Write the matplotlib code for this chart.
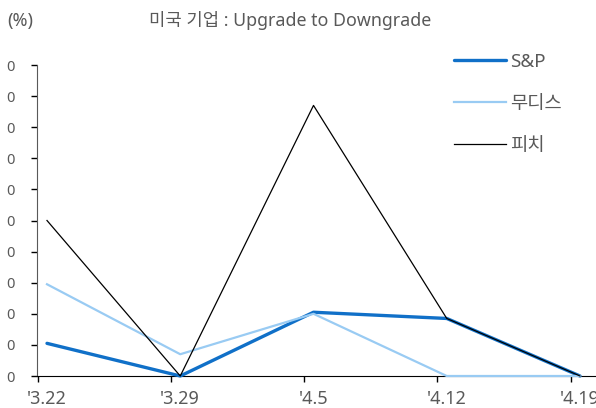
import numpy as np
import matplotlib
matplotlib.use("Agg")
import matplotlib.pyplot as plt

plt.rcParams['font.family'] = ['Noto Sans', 'Noto Sans CJK KR', 'DejaVu Sans']

# data (y in tick units, labels are cropped to "0")
dates = ["'3.22", "'3.29", "'4.5", "'4.12", "'4.19"]
sp = [1.05, 0.0, 2.05, 1.85, 0.0]
moodys = [2.95, 0.7, 2.0, 0.0, 0.0]
fitch = [5.0, 0.0, 8.7, 1.85, 0.0]
ytick_vals = list(range(0, 11))
ytick_labels = ["0"] * 11

gray = "#595959"
fig = plt.figure(figsize=(5.96, 4.08), dpi=100)
ax = fig.add_axes([37 / 596, 32 / 408, 559 / 596, 311 / 408])

x = np.arange(len(dates))
ax.plot(x, sp, color="#1070C8", lw=2.4, label="S&P", clip_on=False, zorder=3,
        solid_capstyle="round")
ax.plot(x, moodys, color="#99CBF3", lw=1.6, label="무디스", clip_on=False, zorder=4)
ax.plot(x, fitch, color="black", lw=0.9, label="피치", clip_on=False, zorder=5)

ax.set_xlim(-0.075, 4.12)
ax.set_ylim(0, 10)

ax.set_xticks(x)
ax.set_xticklabels(dates, color=gray, fontsize=13)
ax.tick_params(axis="x", length=0, pad=10)
ax.set_xticks(x - 0.07, minor=True)
ax.tick_params(axis="x", which="minor", length=4, width=1, color="black")

ax.set_yticks(ytick_vals)
ax.set_yticklabels(ytick_labels, color=gray, fontsize=10.5)
ax.tick_params(axis="y", length=4, width=1, pad=12)

for s in ["top", "right"]:
    ax.spines[s].set_visible(False)
ax.spines["left"].set_color(gray)
ax.spines["bottom"].set_color("black")

fig.text(290 / 596, 1 - 21 / 408, "미국 기업 : Upgrade to Downgrade", ha="center",
         va="center", color=gray, fontsize=12.8)
fig.text(7 / 596, 1 - 21 / 408, "(%)", ha="left", va="center", color=gray,
         fontsize=13)

leg = ax.legend(loc="upper left", bbox_to_anchor=(437 / 596, 1 - 36 / 408),
                bbox_transform=fig.transFigure, frameon=False, fontsize=13.5,
                handlelength=2.8, handletextpad=0.2, labelspacing=1.27,
                labelcolor=gray)

fig.savefig("out.png", dpi=100)
